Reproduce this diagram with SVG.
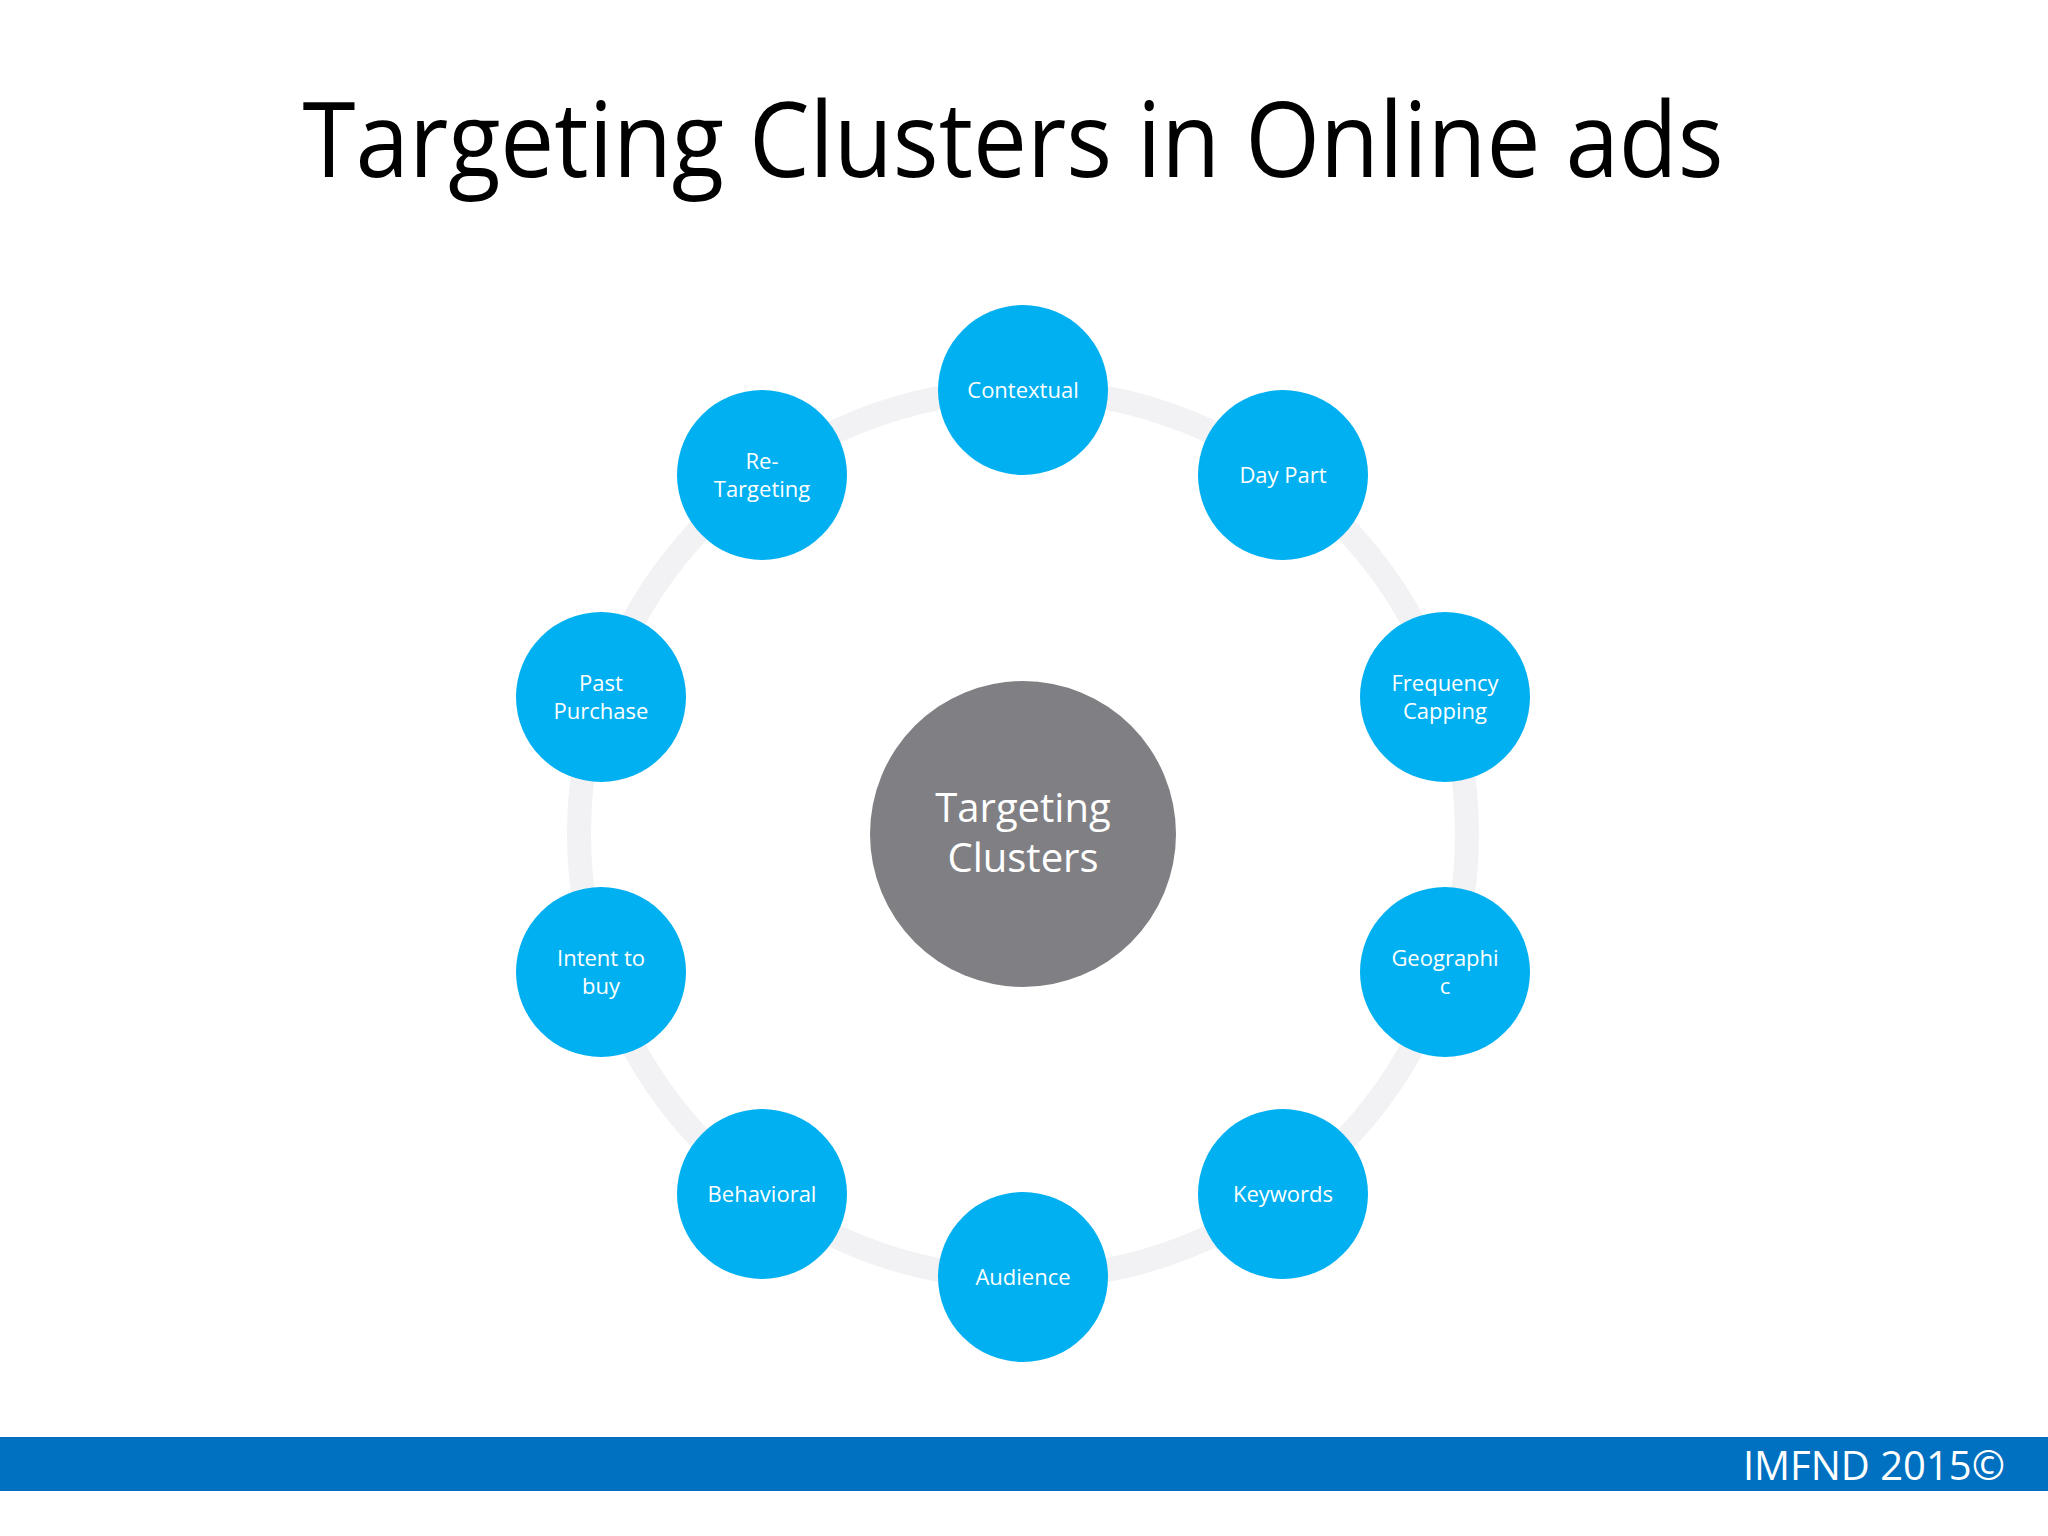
<svg xmlns="http://www.w3.org/2000/svg" width="2048" height="1536" viewBox="0 0 2048 1536">
<style>
.n{fill:#00b0f0}
.t{font-family:"Open Sans","Noto Sans",sans-serif;font-size:22px;fill:#fff;text-anchor:middle}
</style>
<rect width="2048" height="1536" fill="#fff"/>
<text x="1013" y="177" font-family="Open Sans, Noto Sans, sans-serif" font-size="104" text-anchor="middle" textLength="1421" lengthAdjust="spacingAndGlyphs" fill="#000">Targeting Clusters in Online ads</text>
<g id="connectors"><circle cx="1023" cy="834" r="444" fill="none" stroke="#f2f1f4" stroke-width="24"/></g>
<g id="center"><circle cx="1023" cy="834" r="153" fill="#807f83"/><text class="t" style="font-size:40px" x="1023" y="822">Targeting</text><text class="t" style="font-size:40px" x="1023" y="872">Clusters</text></g>
<g id="contextual"><circle class="n" cx="1023" cy="390" r="85"/><text class="t" x="1023" y="398">Contextual</text></g>
<g id="daypart"><circle class="n" cx="1283" cy="475" r="85"/><text class="t" x="1283" y="483">Day Part</text></g>
<g id="frequency"><circle class="n" cx="1445" cy="697" r="85"/><text class="t" x="1445" y="691">Frequency</text><text class="t" x="1445" y="719">Capping</text></g>
<g id="geographic"><circle class="n" cx="1445" cy="972" r="85"/><text class="t" x="1445" y="966">Geographi</text><text class="t" x="1445" y="994">c</text></g>
<g id="keywords"><circle class="n" cx="1283" cy="1194" r="85"/><text class="t" x="1283" y="1202">Keywords</text></g>
<g id="audience"><circle class="n" cx="1023" cy="1277" r="85"/><text class="t" x="1023" y="1285">Audience</text></g>
<g id="behavioral"><circle class="n" cx="762" cy="1194" r="85"/><text class="t" x="762" y="1202">Behavioral</text></g>
<g id="intent"><circle class="n" cx="601" cy="972" r="85"/><text class="t" x="601" y="966">Intent to</text><text class="t" x="601" y="994">buy</text></g>
<g id="past"><circle class="n" cx="601" cy="697" r="85"/><text class="t" x="601" y="691">Past</text><text class="t" x="601" y="719">Purchase</text></g>
<g id="retargeting"><circle class="n" cx="762" cy="475" r="85"/><text class="t" x="762" y="469">Re-</text><text class="t" x="762" y="497">Targeting</text></g>
<rect x="0" y="1437" width="2048" height="54" fill="#0070c0"/>
<text x="2005" y="1480" font-family="Open Sans, Noto Sans, sans-serif" font-size="40" text-anchor="end" fill="#fff">IMFND 2015©</text>
</svg>
